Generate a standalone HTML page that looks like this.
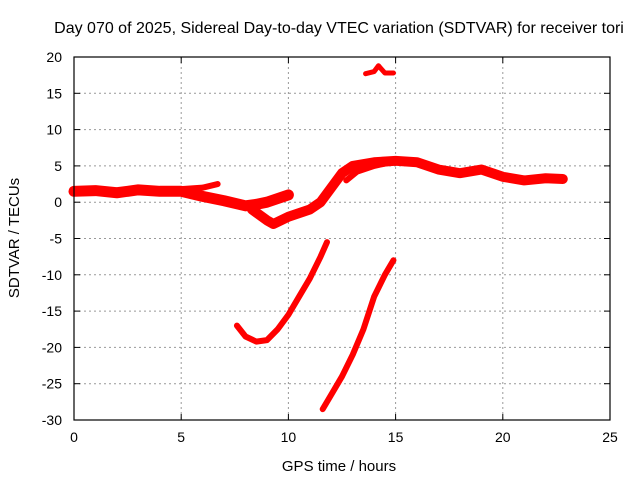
<!DOCTYPE html>
<html><head><meta charset="utf-8"><style>
body{margin:0;background:#fff}
svg{font-family:"Liberation Sans",sans-serif;font-size:14px}
</style></head><body>
<svg id="c" width="640" height="480">
<text x="339" y="33" text-anchor="middle" style="font-size:16px">Day 070 of 2025, Sidereal Day-to-day VTEC variation (SDTVAR) for receiver tori</text>
<text x="339" y="471" text-anchor="middle" style="font-size:15px">GPS time / hours</text>
<text transform="translate(19,238) rotate(-90)" text-anchor="middle" style="font-size:15px">SDTVAR / TECUs</text>
<g id="grid"></g><g id="series"></g>
<rect x="74" y="57" width="536" height="363" fill="none" stroke="#000" stroke-width="1.2"/>
<g id="ticks"></g>
</svg>
<script>
const xTicks=[0,5,10,15,20,25];
const yTicks=[20,15,10,5,0,-5,-10,-15,-20,-25,-30];
const mainHours=[0,1,2,3,4,5,6,7,8,8.5,9,9.5,10];
const mainVals=[1.5,1.6,1.3,1.7,1.5,1.5,0.8,0.2,-0.5,-0.3,0.0,0.5,1.0];
const upperHours=[5,6,6.7];
const upperVals=[1.8,2.0,2.5];
const lowerHours=[8.3,9,9.3,10,11,11.5,12,12.5,13,14,15,16,17,18,19,20,21,22,22.8];
const lowerVals=[-1,-2.5,-3,-2,-1,0,2,4,5,5.5,5.7,5.5,4.5,4,4.5,3.5,3,3.3,3.2];
const branchHours=[12.7,13.2,14,14.8];
const branchVals=[3,4.2,5,5.5];
const arcHours=[7.6,8,8.5,9,9.5,10,10.5,11,11.5,11.8];
const arcVals=[-17,-18.5,-19.2,-19,-17.5,-15.5,-13,-10.5,-7.5,-5.5];
const riseHours=[11.6,12,12.5,13,13.5,14,14.5,14.9];
const riseVals=[-28.5,-26.5,-24,-21,-17.5,-13,-10,-8];
const topHours=[13.6,14,14.2,14.5,14.9];
const topVals=[17.7,18,18.8,17.8,17.8];
const X=h=>74+h*21.44, Y=v=>57+(20-v)*7.26;
const NS="http://www.w3.org/2000/svg";
const g=document.getElementById('grid'),t=document.getElementById('ticks'),s=document.getElementById('series');
function mk(tag,a,p){const e=document.createElementNS(NS,tag);for(const k in a)e.setAttribute(k,a[k]);p.appendChild(e);return e;}
xTicks.forEach(v=>{
 if(v>0&&v<25){const l=mk('line',{x1:X(v),x2:X(v),y1:57,y2:420,stroke:'#999','stroke-dasharray':'2,3'},g);
 
 }
 mk('line',{x1:X(v),x2:X(v),y1:420,y2:414,stroke:'#000'},t);
 mk('line',{x1:X(v),x2:X(v),y1:57,y2:63,stroke:'#000'},t);
 const tx=mk('text',{x:X(v),y:442,'text-anchor':'middle'},t);tx.textContent=v;
 
 
});
yTicks.forEach(v=>{
 if(v<20&&v>-30){const l=mk('line',{x1:74,x2:610,y1:Y(v),y2:Y(v),stroke:'#999','stroke-dasharray':'2,3'},g);
 
 }
 mk('line',{x1:74,x2:80,y1:Y(v),y2:Y(v),stroke:'#000'},t);
 mk('line',{x1:604,x2:610,y1:Y(v),y2:Y(v),stroke:'#000'},t);
 const tx=mk('text',{x:62,y:Y(v)+5,'text-anchor':'end'},t);tx.textContent=v;
 
 
});
function series(hs,vs,w,name){
 const p=mk('polyline',{points:hs.map((h,i)=>X(h)+','+Y(vs[i])).join(' '),fill:'none',stroke:'#f00','stroke-width':w,'stroke-linejoin':'round','stroke-linecap':'round'},s);
 
 
}
series(mainHours,mainVals,11,'series-main-band');
series(upperHours,upperVals,6,'series-upper-branch');
series(lowerHours,lowerVals,10,'series-lower-band');
series(branchHours,branchVals,6,'series-second-branch');
series(arcHours,arcVals,6,'series-arc');
series(riseHours,riseVals,6,'series-rise');
series(topHours,topVals,5,'series-top');
</script>
</body></html>
